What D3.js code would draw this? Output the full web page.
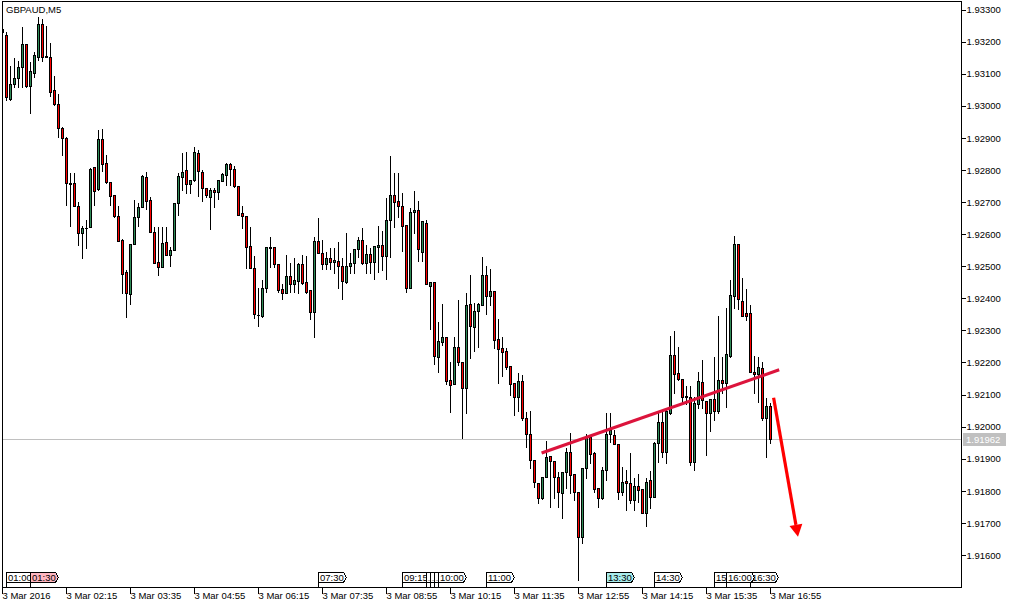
<!DOCTYPE html>
<html><head><meta charset="utf-8">
<script src="https://cdn.jsdelivr.net/npm/d3@7"></script>
<style>
body{margin:0;background:#fff}
svg{display:block}
text{font-family:"Liberation Sans",Arial,sans-serif;font-size:9.5px;fill:#000}
</style>
</head><body><svg id="chart" width="1014" height="608"></svg>
<script>
const symbol = "GBPAUD,M5";
const open = [1.93231,1.93222,1.93022,1.93069,1.93088,1.93122,1.93191,1.93063,1.93103,1.93153,1.93256,1.93155,1.93153,1.93050,1.93004,1.92932,1.92898,1.92760,1.92760,1.92689,1.92604,1.92620,1.92623,1.92810,1.92742,1.92895,1.92823,1.92763,1.92723,1.92657,1.92583,1.92483,1.92414,1.92570,1.92654,1.92686,1.92779,1.92707,1.92608,1.92514,1.92498,1.92576,1.92536,1.92551,1.92698,1.92779,1.92801,1.92757,1.92770,1.92854,1.92795,1.92745,1.92717,1.92739,1.92732,1.92767,1.92785,1.92817,1.92804,1.92751,1.92667,1.92657,1.92564,1.92495,1.92349,1.92346,1.92433,1.92561,1.92561,1.92508,1.92430,1.92417,1.92470,1.92445,1.92455,1.92508,1.92452,1.92427,1.92358,1.92579,1.92542,1.92508,1.92526,1.92514,1.92517,1.92501,1.92452,1.92501,1.92511,1.92555,1.92583,1.92511,1.92539,1.92514,1.92561,1.92567,1.92533,1.92645,1.92723,1.92704,1.92689,1.92629,1.92433,1.92670,1.92676,1.92545,1.92636,1.92439,1.92452,1.92218,1.92264,1.92280,1.92146,1.92133,1.92249,1.92202,1.92121,1.92383,1.92311,1.92361,1.92380,1.92473,1.92408,1.92424,1.92274,1.92246,1.92236,1.92190,1.92137,1.92093,1.92143,1.92027,1.91977,1.91896,1.91825,1.91778,1.91843,1.91909,1.91893,1.91843,1.91793,1.91859,1.91921,1.91853,1.91797,1.91656,1.91871,1.91968,1.91918,1.91809,1.91778,1.91865,1.91977,1.91974,1.91946,1.91797,1.91831,1.91825,1.91772,1.91815,1.91806,1.91731,1.91834,1.91781,1.91949,1.92015,1.91921,1.92043,1.92224,1.92168,1.92149,1.92093,1.92093,1.91890,1.92071,1.92140,1.92080,1.92043,1.92087,1.92049,1.92146,1.92137,1.92221,1.92408,1.92570,1.92392,1.92355,1.92355,1.92171,1.92165,1.92183,1.92027,1.92065];
const high = [1.93241,1.93231,1.93125,1.93150,1.93141,1.93244,1.93194,1.93135,1.93166,1.93278,1.93269,1.93250,1.93197,1.93094,1.93038,1.92935,1.92904,1.92792,1.92792,1.92701,1.92626,1.92645,1.92807,1.92810,1.92923,1.92929,1.92848,1.92763,1.92723,1.92689,1.92586,1.92489,1.92570,1.92707,1.92698,1.92785,1.92795,1.92717,1.92623,1.92623,1.92623,1.92623,1.92561,1.92698,1.92792,1.92854,1.92857,1.92770,1.92870,1.92863,1.92801,1.92745,1.92745,1.92745,1.92770,1.92792,1.92823,1.92823,1.92813,1.92751,1.92689,1.92657,1.92623,1.92533,1.92433,1.92458,1.92561,1.92592,1.92561,1.92508,1.92445,1.92536,1.92511,1.92526,1.92511,1.92536,1.92533,1.92427,1.92592,1.92651,1.92583,1.92545,1.92558,1.92558,1.92576,1.92526,1.92604,1.92542,1.92555,1.92592,1.92620,1.92567,1.92558,1.92564,1.92626,1.92611,1.92714,1.92842,1.92792,1.92792,1.92729,1.92629,1.92682,1.92735,1.92704,1.92642,1.92645,1.92452,1.92452,1.92327,1.92383,1.92280,1.92202,1.92280,1.92395,1.92202,1.92417,1.92473,1.92386,1.92386,1.92530,1.92501,1.92492,1.92424,1.92336,1.92280,1.92246,1.92190,1.92137,1.92168,1.92162,1.92046,1.92049,1.91896,1.91825,1.91843,1.91956,1.91909,1.91893,1.91859,1.91859,1.91934,1.91981,1.91853,1.91797,1.91871,1.91977,1.91974,1.91921,1.91809,1.91875,1.92043,1.92043,1.91990,1.91946,1.91875,1.91865,1.91918,1.91840,1.91853,1.91806,1.91840,1.91862,1.91953,1.92043,1.92046,1.92059,1.92283,1.92299,1.92249,1.92149,1.92127,1.92127,1.92093,1.92171,1.92208,1.92080,1.92087,1.92218,1.92346,1.92218,1.92370,1.92458,1.92595,1.92570,1.92464,1.92430,1.92380,1.92221,1.92218,1.92202,1.92090,1.92074];
const low = [1.93228,1.93019,1.93019,1.93060,1.93057,1.93057,1.93057,1.92979,1.93091,1.93144,1.93141,1.93153,1.93029,1.93001,1.92904,1.92848,1.92692,1.92626,1.92689,1.92567,1.92526,1.92558,1.92623,1.92692,1.92739,1.92798,1.92760,1.92692,1.92654,1.92579,1.92417,1.92342,1.92383,1.92570,1.92626,1.92686,1.92679,1.92608,1.92511,1.92473,1.92498,1.92536,1.92501,1.92551,1.92661,1.92739,1.92729,1.92729,1.92767,1.92720,1.92704,1.92717,1.92617,1.92686,1.92710,1.92767,1.92754,1.92754,1.92748,1.92661,1.92620,1.92495,1.92495,1.92339,1.92314,1.92342,1.92420,1.92498,1.92498,1.92420,1.92399,1.92417,1.92420,1.92420,1.92417,1.92445,1.92417,1.92336,1.92280,1.92542,1.92492,1.92492,1.92492,1.92480,1.92433,1.92399,1.92448,1.92480,1.92480,1.92530,1.92508,1.92480,1.92480,1.92461,1.92483,1.92489,1.92461,1.92530,1.92623,1.92654,1.92548,1.92420,1.92433,1.92604,1.92517,1.92517,1.92445,1.92305,1.92196,1.92171,1.92255,1.92133,1.92046,1.92133,1.92193,1.91965,1.92043,1.92215,1.92236,1.92249,1.92380,1.92352,1.92380,1.92246,1.92137,1.92158,1.92180,1.92099,1.92037,1.92049,1.92021,1.91937,1.91871,1.91812,1.91762,1.91775,1.91843,1.91750,1.91778,1.91750,1.91715,1.91809,1.91793,1.91772,1.91522,1.91637,1.91840,1.91887,1.91797,1.91750,1.91775,1.91834,1.91953,1.91946,1.91775,1.91787,1.91740,1.91762,1.91740,1.91765,1.91731,1.91690,1.91747,1.91781,1.91890,1.91906,1.91887,1.92040,1.92105,1.92146,1.92077,1.92071,1.91881,1.91865,1.92059,1.92059,1.91912,1.91987,1.92021,1.92043,1.92105,1.92062,1.92218,1.92370,1.92367,1.92346,1.92333,1.92171,1.92105,1.92077,1.92021,1.91906,1.91949];
const close = [1.93238,1.93026,1.93069,1.93088,1.93122,1.93194,1.93063,1.93107,1.93157,1.93256,1.93153,1.93153,1.93044,1.93004,1.92932,1.92898,1.92760,1.92757,1.92689,1.92604,1.92620,1.92618,1.92804,1.92735,1.92895,1.92820,1.92763,1.92720,1.92657,1.92579,1.92477,1.92417,1.92570,1.92654,1.92686,1.92782,1.92704,1.92608,1.92511,1.92498,1.92573,1.92536,1.92551,1.92698,1.92782,1.92795,1.92757,1.92770,1.92857,1.92798,1.92745,1.92723,1.92739,1.92732,1.92770,1.92788,1.92817,1.92804,1.92751,1.92661,1.92657,1.92561,1.92495,1.92352,1.92349,1.92433,1.92561,1.92558,1.92508,1.92427,1.92417,1.92470,1.92445,1.92458,1.92508,1.92448,1.92420,1.92358,1.92579,1.92542,1.92508,1.92526,1.92514,1.92520,1.92501,1.92455,1.92501,1.92511,1.92555,1.92583,1.92511,1.92539,1.92514,1.92564,1.92567,1.92533,1.92645,1.92723,1.92701,1.92689,1.92626,1.92433,1.92670,1.92676,1.92555,1.92642,1.92445,1.92452,1.92221,1.92268,1.92280,1.92143,1.92130,1.92249,1.92202,1.92121,1.92380,1.92314,1.92361,1.92383,1.92473,1.92408,1.92424,1.92271,1.92243,1.92233,1.92186,1.92133,1.92093,1.92143,1.92027,1.91977,1.91896,1.91828,1.91778,1.91843,1.91906,1.91893,1.91843,1.91797,1.91859,1.91921,1.91850,1.91797,1.91656,1.91871,1.91968,1.91915,1.91806,1.91778,1.91865,1.91977,1.91990,1.91946,1.91797,1.91828,1.91825,1.91772,1.91815,1.91803,1.91731,1.91828,1.91781,1.91949,1.92015,1.91921,1.92049,1.92224,1.92165,1.92149,1.92093,1.92096,1.91890,1.92074,1.92143,1.92084,1.92043,1.92087,1.92049,1.92146,1.92137,1.92227,1.92411,1.92570,1.92399,1.92346,1.92346,1.92171,1.92165,1.92186,1.92027,1.92065,1.91962];
const timeTickBars = [0,16,32,48,64,80,96,112,128,144,160,176,192];
const timeTickLabels = ["3 Mar 2016","3 Mar 02:15","3 Mar 03:35","3 Mar 04:55","3 Mar 06:15","3 Mar 07:35","3 Mar 08:55","3 Mar 10:15","3 Mar 11:35","3 Mar 12:55","3 Mar 14:15","3 Mar 15:35","3 Mar 16:55"];
const priceTicks = [1.916,1.917,1.918,1.919,1.920,1.921,1.922,1.923,1.924,1.925,1.926,1.927,1.928,1.929,1.930,1.931,1.932,1.933];
const bidPrice = 1.91962;
const eventTimes = ["01:00","01:30","07:30","09:15","09:45","09:50","09:55","10:00","11:00","13:30","14:30","15:45","16:30","16:00"];
const eventBars  = [1,7,79,100,106,107,108,109,121,151,163,178,187,181];
const eventFills = ["#fff","#ffb6c1","#fff","#fff","#fff","#fff","#fff","#fff","#fff","#a8ecec","#fff","#fff","#fff","#fff"];
const trendBars = [134.9, 194.3];
const trendPrices = [1.91918, 1.92177];
const arrowBars = [192.9, 199.0];
const arrowPrices = [1.92090, 1.91657];

const svg = d3.select("#chart");
const L = 2, R = 961, T = 1, B = 587;
const x = d3.scaleLinear().domain([0, 192]).range([2, 770]);
const y = d3.scaleLinear().domain([1.916, 1.933]).range([555, 9.5]);
const defs = svg.append("defs");
defs.append("clipPath").attr("id","plot")
  .append("rect").attr("x", L+1).attr("y", T+1).attr("width", R-L-1).attr("height", B-T-1);

// bid line
svg.append("line").attr("x1", L).attr("x2", R).attr("y1", Math.round(y(bidPrice))+0.5).attr("y2", Math.round(y(bidPrice))+0.5)
  .attr("stroke", "#c0c0c0").attr("stroke-width", 1).attr("shape-rendering","crispEdges");

const g = svg.append("g").attr("clip-path","url(#plot)").attr("shape-rendering","crispEdges");
d3.range(open.length).forEach(i => {
  const c = Math.round(x(i));
  g.append("line").attr("x1", c+0.5).attr("x2", c+0.5)
    .attr("y1", Math.round(y(high[i]))).attr("y2", Math.round(y(low[i]))+1)
    .attr("stroke","#000").attr("stroke-width",1);
  const top = Math.round(y(Math.max(open[i], close[i])));
  const bot = Math.round(y(Math.min(open[i], close[i])));
  if (bot - top < 1) {
    g.append("line").attr("x1", c-1).attr("x2", c+2).attr("y1", top+0.5).attr("y2", top+0.5)
      .attr("stroke","#000").attr("stroke-width",1);
  } else {
    g.append("rect").attr("x", c-0.5).attr("y", top+0.5).attr("width", 2).attr("height", bot-top)
      .attr("fill", close[i] > open[i] ? "#2e8b57" : "#ff0000")
      .attr("stroke","#000").attr("stroke-width",1);
  }
});

// trend line
const lineGen = d3.line().x(d => x(d[0])).y(d => y(d[1]));
svg.append("path").attr("d", lineGen(trendBars.map((b,k)=>[b, trendPrices[k]])))
  .attr("stroke", "#dc143c").attr("stroke-width", 3.2).attr("fill","none");

// arrow
const ax0 = x(arrowBars[0]), ay0 = y(arrowPrices[0]), ax1 = x(arrowBars[1]), ay1 = y(arrowPrices[1]);
const ang = Math.atan2(ay1-ay0, ax1-ax0);
const hl = 12, hw = 6.5;
const hbx = ax1 - hl*Math.cos(ang), hby = ay1 - hl*Math.sin(ang);
svg.append("line").attr("x1", ax0).attr("y1", ay0).attr("x2", hbx).attr("y2", hby)
  .attr("stroke","#ff0000").attr("stroke-width",3.2);
svg.append("path").attr("d", `M${ax1},${ay1}L${hbx - hw*Math.sin(ang)},${hby + hw*Math.cos(ang)}L${hbx + hw*Math.sin(ang)},${hby - hw*Math.cos(ang)}Z`)
  .attr("fill","#ff0000");

// frame
svg.append("rect").attr("x", L+0.5).attr("y", T+0.5).attr("width", R-L).attr("height", B-T)
  .attr("fill","none").attr("stroke","#000").attr("shape-rendering","crispEdges");

// right axis
const yAxis = d3.axisRight(y).tickValues(priceTicks).tickFormat(d3.format(".5f")).tickSize(4).tickSizeOuter(0).tickPadding(1);
const ya = svg.append("g").attr("transform", `translate(${R+0.5},0)`).call(yAxis);
ya.select(".domain").remove();
ya.selectAll("line").attr("shape-rendering","crispEdges");
ya.selectAll("text").attr("font-family", null).attr("font-size", null).attr("dy","0.34em");

// bid label
const by0 = Math.round(y(bidPrice));
svg.append("rect").attr("x", R+2).attr("y", by0-6).attr("width", 43).attr("height", 13).attr("fill","#c0c0c0");
svg.append("text").attr("x", R+5).attr("y", by0+4).style("fill","#fff").text(d3.format(".5f")(bidPrice));

// bottom axis
const xAxis = d3.axisBottom(x).tickValues(timeTickBars).tickFormat((d,k)=>timeTickLabels[k]).tickSize(6).tickSizeOuter(0);
const xa = svg.append("g").attr("transform", `translate(0,${B+0.5})`).call(xAxis);
xa.select(".domain").remove();
xa.selectAll("line").attr("shape-rendering","crispEdges");
xa.selectAll("text").attr("font-family", null).attr("font-size", null).attr("text-anchor","start").attr("y", 5).attr("dy","0.71em");
xa.selectAll(".tick").attr("transform", d => `translate(${Math.round(x(d))+0.5},0)`);

// event tags (later tags cover earlier ones; text clipped to its visible part)
const tags = svg.append("g");
const tagX = eventBars.map(b => Math.round(x(b)) + 0.5);
eventTimes.forEach((t,k) => {
  const x0 = tagX[k];
  const t0 = 572.5, t1 = 582.5, w = 25;
  let vis = x0 + w + 3;
  for (let j = k+1; j < tagX.length; j++) if (tagX[j] > x0 && tagX[j] < vis) vis = tagX[j];
  const cid = "tagclip" + k;
  defs.append("clipPath").attr("id", cid).append("rect")
    .attr("x", x0).attr("y", t0).attr("width", Math.max(0.5, vis - x0)).attr("height", t1 - t0);
  tags.append("path").attr("d", `M${x0},${t0}H${x0+w}L${x0+w+3},${(t0+t1)/2}L${x0+w},${t1}H${x0}Z`)
    .attr("fill", eventFills[k]).attr("stroke","#000").attr("stroke-width",1).attr("shape-rendering","crispEdges");
  tags.append("line").attr("x1", x0).attr("x2", x0).attr("y1", t0).attr("y2", B).attr("stroke","#000").attr("shape-rendering","crispEdges");
  tags.append("text").attr("x", x0+1.5).attr("y", t1-2).attr("clip-path", `url(#${cid})`)
    .style("font-size", (vis - x0) < 10 ? "2px" : null).text(t);
});

// title
svg.append("text").attr("x", 6).attr("y", 13).text(symbol);
</script>
</body></html>
